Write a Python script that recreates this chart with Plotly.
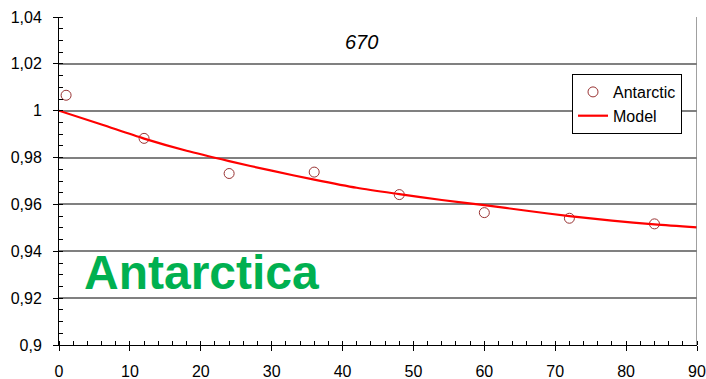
import plotly.graph_objects as go

# Measured points (Antarctic)
obs_x = [1, 12, 24, 36, 48, 60, 72, 84]
obs_y = [1.0066, 0.9882, 0.9732, 0.9738, 0.9642, 0.9565, 0.9541, 0.9517]

# Model curve
model_x = [0, 6, 12, 18, 24, 30, 36, 42, 48, 54, 60, 66, 72, 78, 84, 90]
model_y = [1.0000, 0.9941, 0.9881, 0.9829, 0.9785, 0.9744, 0.9706, 0.9671, 0.9644,
           0.9619, 0.9597, 0.9573, 0.9550, 0.9531, 0.9515, 0.9502]

y_ticks = [0.90, 0.92, 0.94, 0.96, 0.98, 1.00, 1.02, 1.04]
y_tick_text = ["0,9", "0,92", "0,94", "0,96", "0,98", "1", "1,02", "1,04"]
x_ticks = [0, 10, 20, 30, 40, 50, 60, 70, 80, 90]

FONT = "Liberation Sans, Arial, sans-serif"
W, H = 706, 379
ML, MR, MT, MB = 59, 9, 17, 34
PW, PH = W - ML - MR, H - MT - MB


def px_to_paper(px, py):
    return (px - ML) / PW, (H - MB - py) / PH


fig = go.Figure()
fig.add_trace(go.Scatter(
    x=obs_x, y=obs_y, mode="markers", name="Antarctic",
    marker=dict(symbol="circle-open", size=10, color="#993333", line=dict(width=1)),
    cliponaxis=False,
))
fig.add_trace(go.Scatter(
    x=model_x, y=model_y, mode="lines", name="Model",
    line=dict(color="#FF0000", width=2.2, shape="spline", smoothing=0.8),
))

lx, ly = px_to_paper(572, 74)
tx, ty = px_to_paper(361, 42)
ax_, ay_ = px_to_paper(201, 272)

fig.update_layout(
    width=W, height=H,
    margin=dict(l=ML, r=MR, t=MT, b=MB),
    paper_bgcolor="white", plot_bgcolor="white",
    font=dict(family=FONT, size=16, color="black"),
    showlegend=True,
    legend=dict(
        x=lx, y=ly, xanchor="left", yanchor="top",
        bgcolor="white", bordercolor="black", borderwidth=1,
        font=dict(size=16), itemwidth=30, tracegroupgap=0,
    ),
    annotations=[
        dict(text="<i>670</i>", x=tx, y=ty, xref="paper", yref="paper",
             xanchor="center", yanchor="middle",
             showarrow=False, font=dict(size=20, family=FONT)),
        dict(text="<b>Antarctica</b>", x=ax_, y=ay_, xref="paper", yref="paper",
             xanchor="center", yanchor="middle",
             showarrow=False, font=dict(size=48, family=FONT, color="#00B050")),
    ],
    shapes=[
        dict(type="line", xref="x", yref="paper", x0=90, x1=90, y0=0, y1=1,
             line=dict(color="#808080", width=1.5)),
    ],
)

fig.update_xaxes(
    range=[0, 90], tickvals=x_ticks, showgrid=False, zeroline=False,
    showline=True, linecolor="black", linewidth=1, automargin=False,
    ticks="outside", ticklen=5, tickcolor="black", ticklabelstandoff=7,
    minor=dict(dtick=2, ticks="inside", ticklen=4, tickcolor="black", showgrid=False),
    tickfont=dict(size=16),
)
fig.update_yaxes(
    range=[0.90, 1.04], tickvals=y_ticks, ticktext=y_tick_text,
    showgrid=True, gridcolor="#808080", gridwidth=1.5, zeroline=False,
    showline=True, linecolor="black", linewidth=1, automargin=False,
    ticks="outside", ticklen=5, tickcolor="black", ticklabelstandoff=8,
    minor=dict(dtick=0.005, ticks="inside", ticklen=4, tickcolor="black", showgrid=False),
    tickfont=dict(size=16),
)

fig.write_html("out.html")
